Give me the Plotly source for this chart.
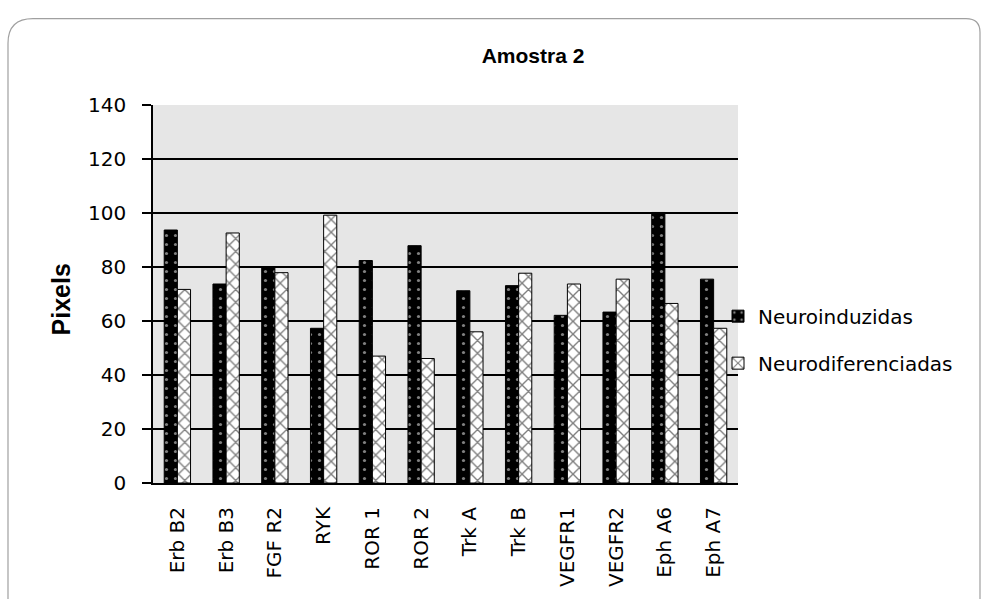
import plotly.graph_objects as go

categories = ["Erb B2", "Erb B3", "FGF R2", "RYK", "ROR 1", "ROR 2", "Trk A", "Trk B",
              "VEGFR1", "VEGFR2", "Eph A6", "Eph A7"]
neuroinduzidas = [93.7, 73.7, 80.0, 57.3, 82.4, 87.9, 71.2, 73.1, 62.1, 63.3, 100.2, 75.5]
neurodiferenciadas = [71.7, 92.6, 77.9, 99.2, 47.0, 46.1, 56.0, 77.7, 73.7, 75.5, 66.5, 57.3]
y_ticks = [0, 20, 40, 60, 80, 100, 120, 140]

W, H = 982, 599
L, R, T, B = 153, 738, 105, 490

def px(x):
    return (x - L) / (R - L)

def py(y):
    return (B - y) / (B - T)

fig = go.Figure()
fig.add_trace(go.Bar(
    x=categories, y=neuroinduzidas, name="Neuroinduzidas",
    marker=dict(color="black", line=dict(color="black", width=1),
                pattern=dict(shape=".", bgcolor="black", fgcolor="white",
                             size=9, solidity=0.1, fillmode="overlay")),
    legendgroup="a",
))
fig.add_trace(go.Bar(
    x=categories, y=neurodiferenciadas, name="Neurodiferenciadas",
    marker=dict(color="white", line=dict(color="black", width=1),
                pattern=dict(shape="x", bgcolor="white", fgcolor="black",
                             size=9, solidity=0.28, fillmode="overlay")),
    legendgroup="b",
))

r = 25
x0, y0 = 8, 17
x1, y1 = 980, 640
r2 = 14
path = (f"M {px(x0)},{py(y1)} L {px(x0)},{py(y0 + r)} "
        f"Q {px(x0)},{py(y0)} {px(x0 + r)},{py(y0)} L {px(x1 - r2)},{py(y0)} "
        f"Q {px(x1)},{py(y0)} {px(x1)},{py(y0 + r2)} L {px(x1)},{py(y1)}")

SANS = "Liberation Sans, Arial"

fig.update_layout(
    width=W, height=H,
    margin=dict(l=L, r=W - R, t=T, b=H - B),
    paper_bgcolor="white",
    plot_bgcolor="#e6e6e6",
    barmode="group",
    bargap=0.46,
    bargroupgap=0.0,
    title=dict(text="<b>Amostra 2</b>", x=533 / W, xanchor="center",
               y=1 - 56 / H, yanchor="middle",
               font=dict(family=SANS, size=21, color="black")),
    font=dict(family="DejaVu Sans", color="black"),
    legend=dict(x=px(718), y=py(344), xanchor="left", yanchor="middle",
                font=dict(family="DejaVu Sans", size=20, color="black"),
                tracegroupgap=18, bgcolor="rgba(0,0,0,0)",
                itemwidth=30),
    shapes=[dict(type="path", xref="paper", yref="paper", path=path,
                 line=dict(color="#a0a0a0", width=1.2), layer="below")],
    annotations=[dict(text="<b>Pixels</b>", textangle=-90, showarrow=False,
                      xref="paper", yref="paper", x=px(61), y=py(303),
                      xanchor="center", yanchor="middle",
                      font=dict(family=SANS, size=25, color="black"))],
)

fig.update_xaxes(
    tickangle=-90, tickfont=dict(size=20, family="DejaVu Sans"),
    showline=True, linecolor="black", linewidth=2,
    ticks="", showgrid=False, ticklabelstandoff=14,
)
fig.update_yaxes(
    range=[0, 140], tickvals=y_ticks, ticktext=[str(v) for v in y_ticks],
    tickfont=dict(size=20, family="DejaVu Sans"),
    showline=True, linecolor="black", linewidth=1.5,
    ticks="outside", ticklen=9, tickcolor="black", tickwidth=1.5,
    ticklabelstandoff=12,
    showgrid=True, gridcolor="black", gridwidth=1.5,
    zeroline=False,
)

fig.write_html("out.html", config={"displayModeBar": False},
               post_script="document.body.style.margin='0';")
